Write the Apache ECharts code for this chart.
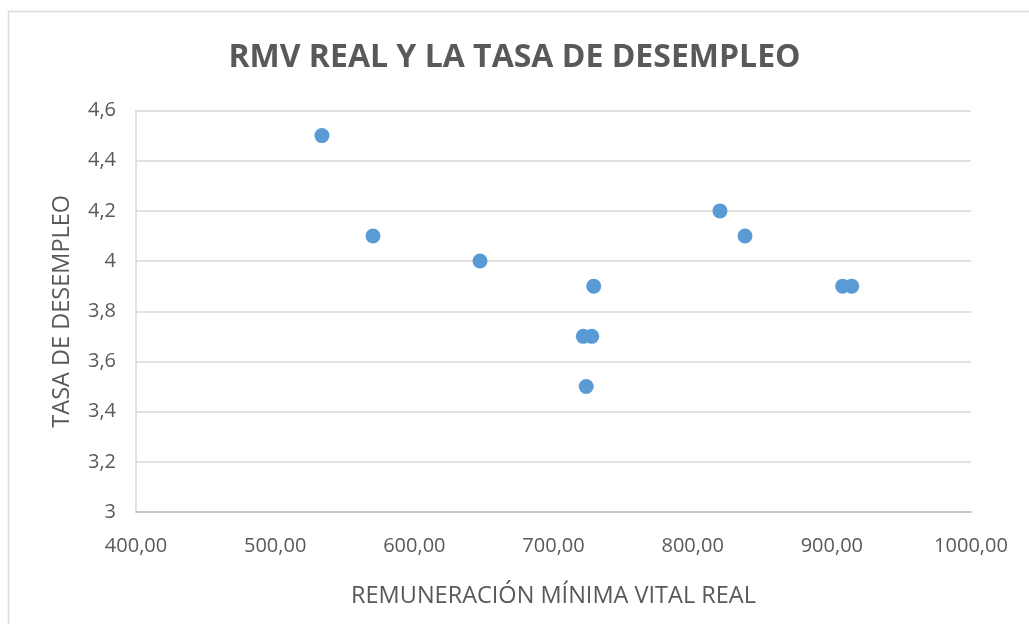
<!DOCTYPE html>
<html>
<head>
<meta charset="utf-8">
<script src="https://cdn.jsdelivr.net/npm/echarts@6/dist/echarts.min.js"></script>
<style>
  html, body { margin: 0; padding: 0; background: #fff; }
  #chart { width: 1029px; height: 624px; }
</style>
</head>
<body>
<div id="chart"></div>
<script>
// remuneración mínima vital real (x) y tasa de desempleo (y)
const rmvReal = [533.6, 570.3, 647.2, 721.4, 727.5, 723.5, 728.9, 819.6, 837.6, 907.8, 914.3];
const tasaDesempleo = [4.5, 4.1, 4.0, 3.7, 3.7, 3.5, 3.9, 4.2, 4.1, 3.9, 3.9];

const points = rmvReal.map((x, i) => [x, tasaDesempleo[i]]);

const chart = echarts.init(document.getElementById('chart'));
chart.setOption({
  animation: false,
  textStyle: { fontFamily: 'Open Sans' },
  title: {
    text: 'RMV REAL Y LA TASA DE DESEMPLEO',
    left: 'center',
    top: 37,
    textStyle: { fontSize: 32, fontWeight: 'bold', color: '#595959', fontFamily: 'Open Sans' }
  },
  graphic: [{
    type: 'rect',
    shape: { x: 8.5, y: 11.5, width: 1100, height: 700 },
    style: { fill: 'none', stroke: '#d9d9d9', lineWidth: 1.5 },
    silent: true
  }],
  grid: { left: 136, right: 58, top: 110.5, bottom: 112 },
  xAxis: {
    type: 'value',
    min: 400, max: 1000, interval: 100,
    name: 'REMUNERACIÓN MÍNIMA VITAL REAL',
    nameLocation: 'middle',
    nameGap: 72,
    nameTextStyle: { fontSize: 23.5, color: '#595959' },
    axisLine: { show: true, lineStyle: { color: '#bfbfbf', width: 1.5 } },
    axisTick: { show: false },
    splitLine: { show: false },
    axisLabel: {
      fontSize: 20, color: '#595959', margin: 24,
      formatter: v => v.toFixed(2).replace('.', ',')
    }
  },
  yAxis: {
    type: 'value',
    min: 3, max: 4.6, interval: 0.2,
    name: 'TASA DE DESEMPLEO',
    nameLocation: 'middle',
    nameGap: 62,
    nameTextStyle: { fontSize: 23.5, color: '#595959' },
    axisLine: { show: true, lineStyle: { color: '#d9d9d9', width: 1.5 } },
    axisTick: { show: false },
    splitLine: { lineStyle: { color: '#d9d9d9', width: 1.5 } },
    axisLabel: {
      fontSize: 20, color: '#595959', margin: 20,
      formatter: v => String(Math.round(v * 10) / 10).replace('.', ',')
    }
  },
  series: [{
    type: 'scatter',
    data: points,
    symbolSize: 15,
    itemStyle: { color: '#5b9bd5', opacity: 1 }
  }]
});
</script>
</body>
</html>
